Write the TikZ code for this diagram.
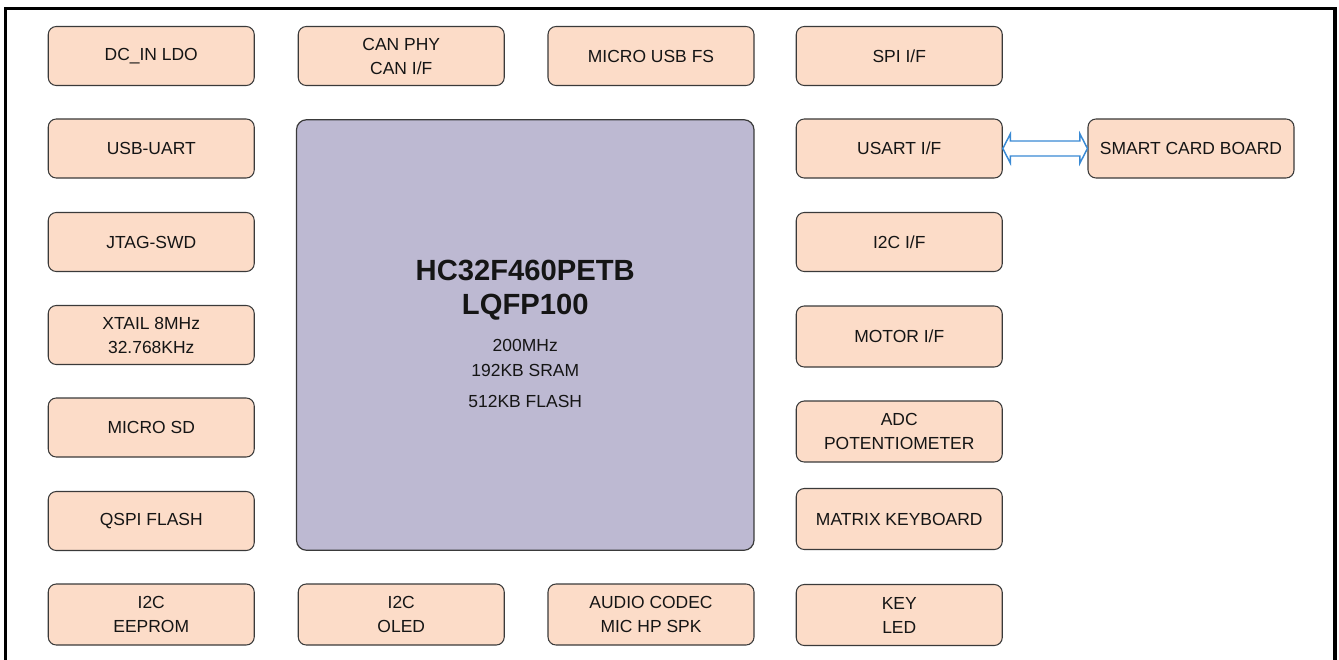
\documentclass[tikz,border=0pt]{standalone}
\usepackage{fontspec}
\setmainfont{Liberation Sans}
\usetikzlibrary{calc}
\definecolor{peach}{HTML}{FCDCC8}
\definecolor{chipfill}{HTML}{BDB9D2}
\definecolor{edgegray}{HTML}{3A3A3A}
\definecolor{arrowblue}{HTML}{3A8AD4}
\definecolor{txt}{HTML}{151515}
\tikzset{
  blockbox/.style={draw=edgegray, fill=peach, line width=0.8pt, rounded corners=6pt,
    minimum width=154.5pt, minimum height=44.25pt, inner sep=0pt, align=center,
    text=txt, font=\fontsize{13.1pt}{18pt}\selectfont},
  tallbox/.style={blockbox, minimum height=45.75pt},
  chipbox/.style={draw=edgegray, fill=chipfill, line width=0.9pt, rounded corners=7.5pt,
    minimum width=343.1pt, minimum height=322.9pt, inner sep=0pt},
  chiptitle/.style={anchor=base, inner sep=0pt, text=txt, font=\fontsize{21.9pt}{25pt}\selectfont\bfseries},
  chipline/.style={anchor=base, inner sep=0pt, text=txt, font=\fontsize{13.1pt}{18pt}\selectfont},
  dblarrow/.style={draw=arrowblue, line width=1.1pt, fill=white, line join=miter}
}
\begin{document}
\begin{tikzpicture}[x=0.75pt, y=-0.75pt]
\useasboundingbox (0,0) rectangle (1339,660);
\draw[line width=2.4pt, black] (5.7,8.5) rectangle (1335,680);

% left column
\node[blockbox] (dcin)  at (151.25,56)   {DC\_IN LDO};
\node[blockbox] (usbuart) at (151.25,148.5) {USB-UART};
\node[blockbox] (jtag)  at (151.25,242)  {JTAG-SWD};
\node[blockbox] (xtal)  at (151.25,335)  {XTAIL 8MHz\\32.768KHz};
\node[blockbox] (sd)    at (151.25,427.5) {MICRO SD};
\node[blockbox] (qspi)  at (151.25,521)  {QSPI FLASH};
\node[tallbox]  (eeprom) at (151.25,614.5) {I2C\\EEPROM};

% top row
\node[blockbox] (can)   at (401.25,56)   {CAN PHY\\CAN I/F};
\node[blockbox] (usbfs) at (651,56)      {MICRO USB FS};

% bottom row
\node[tallbox] (oled)  at (401.25,614.5) {I2C\\OLED};
\node[tallbox] (audio) at (651,614.5)    {AUDIO CODEC\\MIC HP SPK};

% right column
\node[blockbox] (spi)    at (899.25,56)    {SPI I/F};
\node[blockbox] (usart)  at (899.25,148.5) {USART I/F};
\node[blockbox] (i2c)    at (899.25,242)   {I2C I/F};
\node[tallbox]  (motor)  at (899.25,336.5) {MOTOR I/F};
\node[tallbox]  (adc)    at (899.25,431.5) {ADC\\POTENTIOMETER};
\node[tallbox]  (matrix) at (899.25,519)   {MATRIX KEYBOARD};
\node[tallbox]  (keyled) at (899.25,615)   {KEY\\LED};

% smart card
\node[blockbox] (smart) at (1191,148.5) {SMART CARD BOARD};

% chip
\node[chipbox] (chip) at (525.25,335) {};
\node[chiptitle] (t1) at ($(chip.center)+(0,-55)$) {HC32F460PETB};
\node[chiptitle] (t2) at ($(chip.center)+(0,-21)$) {LQFP100};
\node[chipline]  (l1) at ($(chip.center)+(0,16)$)  {200MHz};
\node[chipline]  (l2) at ($(chip.center)+(0,41)$)  {192KB SRAM};
\node[chipline]  (l3) at ($(chip.center)+(0,72)$)  {512KB FLASH};

% double arrow between USART and smart card
\draw[dblarrow] (usart.east) -- ($(usart.east)+(7.5,-14.5)$) -- ($(usart.east)+(7.5,-7.5)$)
  -- ($(smart.west)+(-7.5,-7.5)$) -- ($(smart.west)+(-7.5,-14.5)$) -- (smart.west)
  -- ($(smart.west)+(-7.5,14.5)$) -- ($(smart.west)+(-7.5,7.5)$)
  -- ($(usart.east)+(7.5,7.5)$) -- ($(usart.east)+(7.5,14.5)$) -- cycle;
\end{tikzpicture}
\end{document}
